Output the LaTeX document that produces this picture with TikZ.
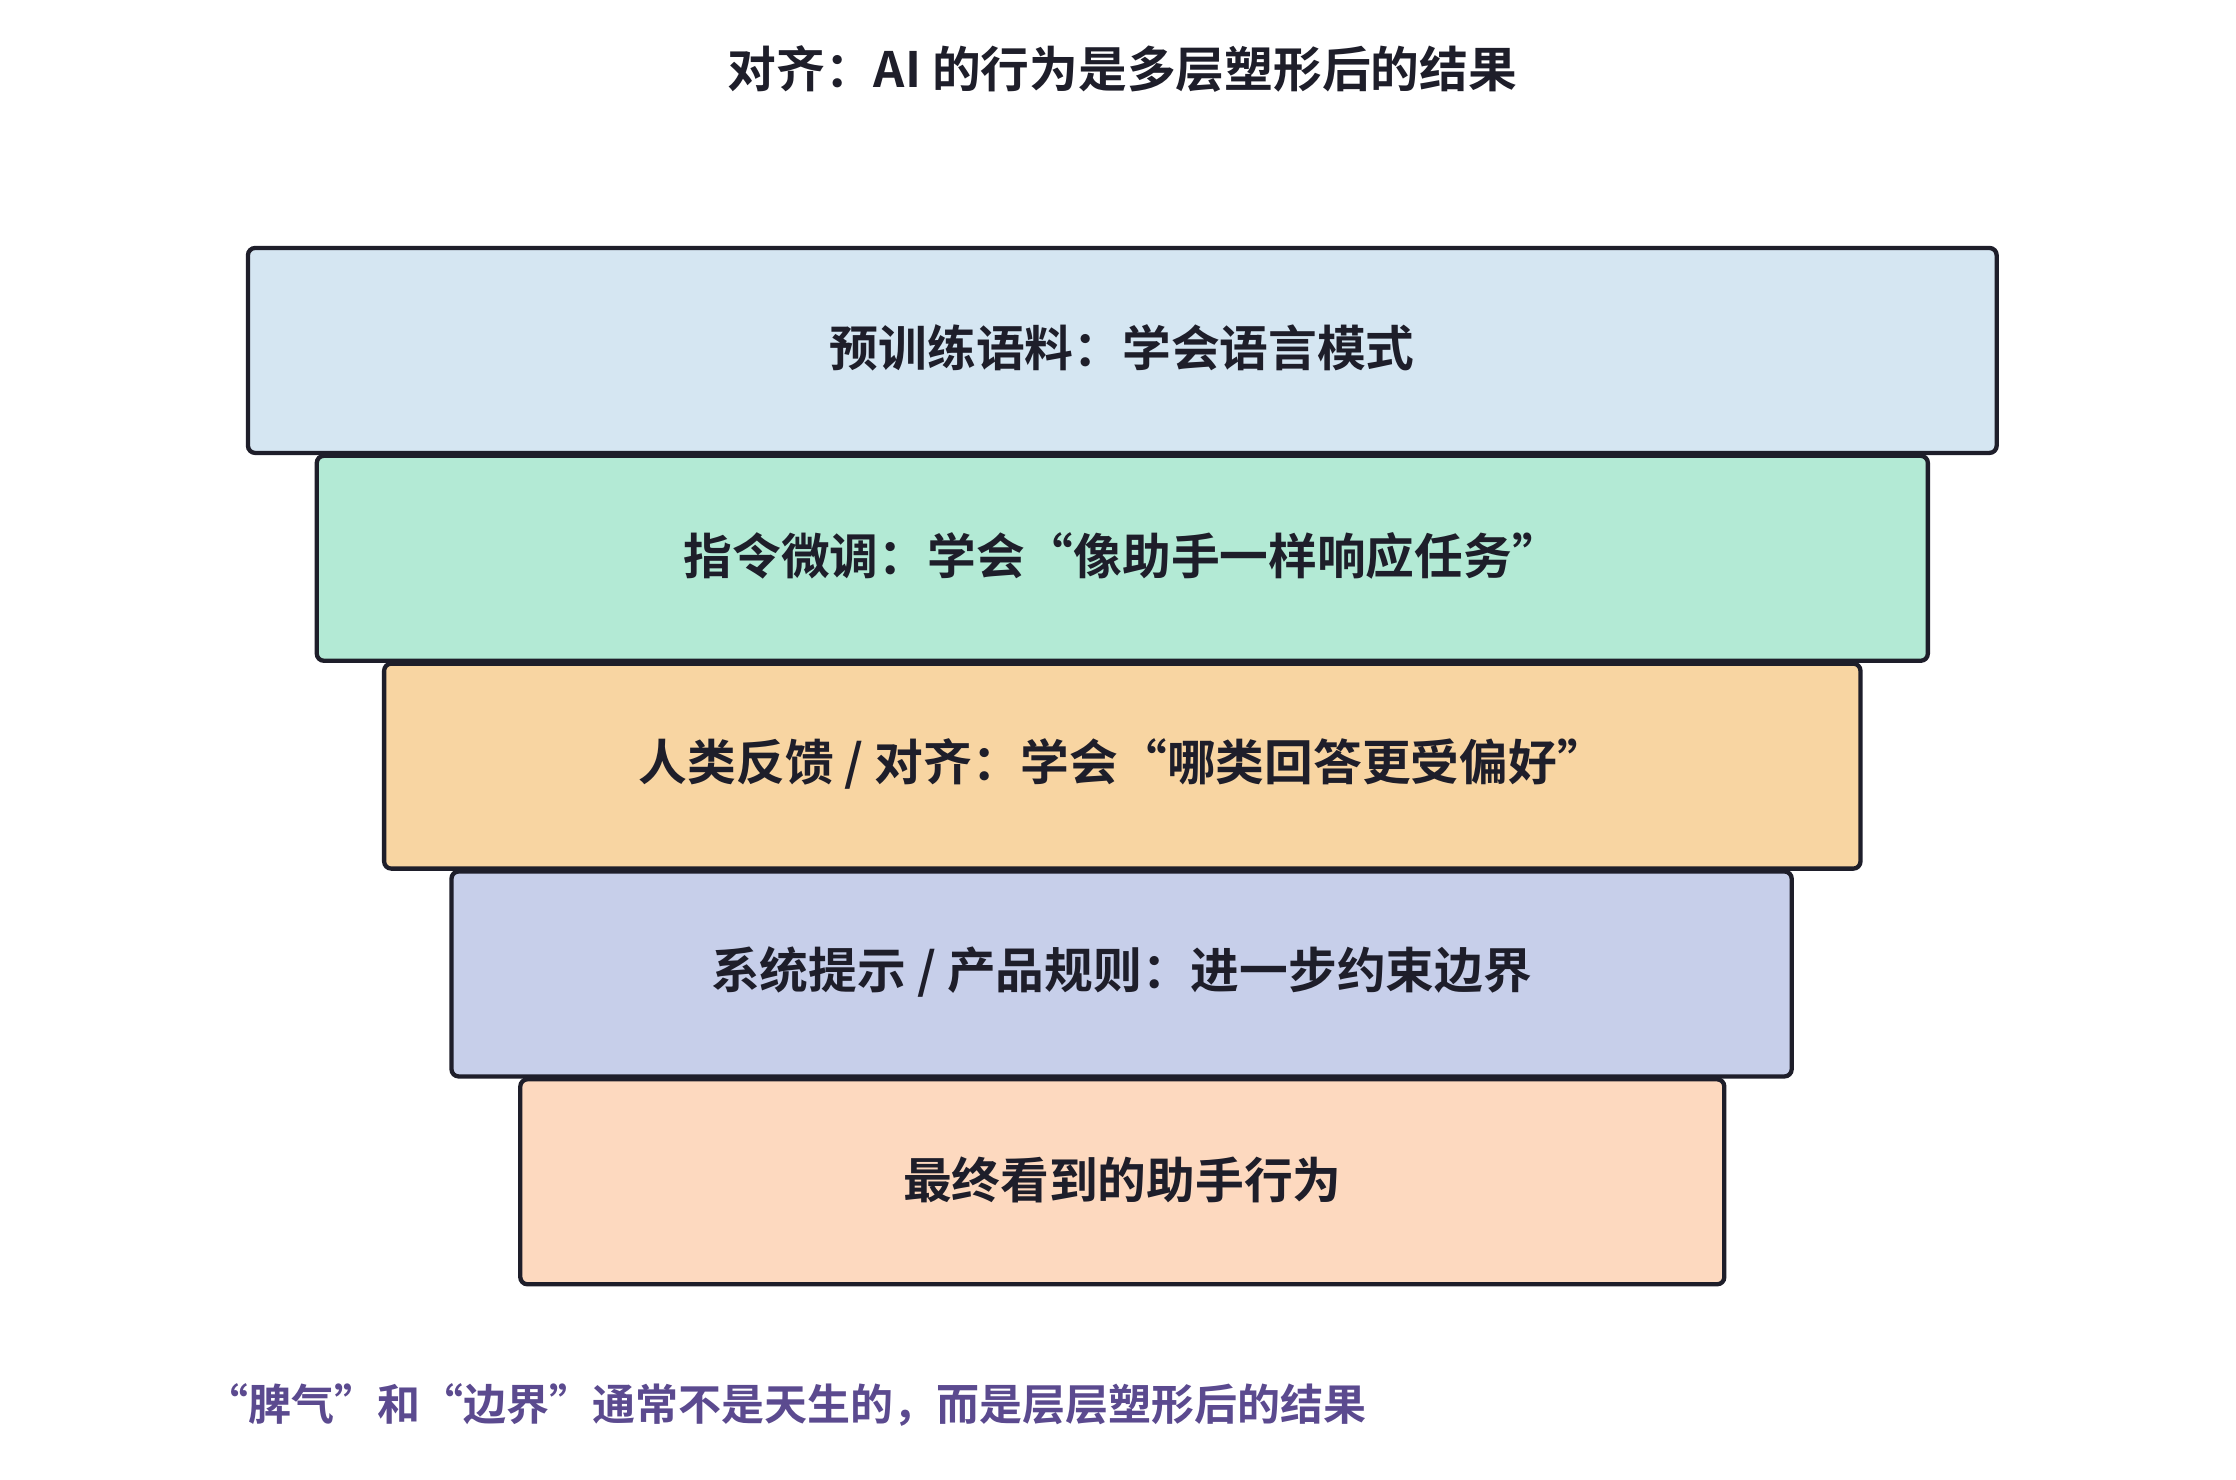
\documentclass[tikz,border=0pt]{standalone}
\usepackage{fontspec}
\newfontfamily\cjk{Noto Sans CJK SC Bold}
\definecolor{c1}{HTML}{D5E6F2}
\definecolor{c2}{HTML}{B3EAD5}
\definecolor{c3}{HTML}{F8D5A2}
\definecolor{c4}{HTML}{C7CFEA}
\definecolor{c5}{HTML}{FDD9BF}
\definecolor{ink}{HTML}{1E1E2A}
\definecolor{foot}{HTML}{5B4A8F}
\begin{document}
\begin{tikzpicture}[x=1pt,y=-1pt,
 layer/.style={draw=ink,line width=3pt,rounded corners=5pt},
 lbl/.style={font=\cjk\fontsize{34}{38}\selectfont,text=ink}]
\useasboundingbox (0,0) rectangle (1560,1032);
\fill[white] (0,0) rectangle (1560,1032);
\node[lbl] (title) at (783,48) {对齐：AI 的行为是多层塑形后的结果};
\foreach \n/\xa/\xb/\ya/\c/\t in {
 l1/173/1393/173/c1/{预训练语料：学会语言模式},
 l2/221/1345/318/c2/{指令微调：学会“像助手一样响应任务”},
 l3/268/1298/463/c3/{人类反馈 / 对齐：学会“哪类回答更受偏好”},
 l4/315/1250/608/c4/{系统提示 / 产品规则：进一步约束边界},
 l5/363/1203/753/c5/{最终看到的助手行为}}{
 \draw[layer,fill=\c] (\xa,\ya) rectangle (\xb,\ya+143);
 \node[lbl] (\n) at ({(\xa+\xb)/2},\ya+70) {\t};
}
\node[font=\cjk\fontsize{30}{34}\selectfont,text=foot,anchor=west,inner sep=0pt] (foot) at (143,980)
 {“脾气”和“边界”通常不是天生的，而是层层塑形后的结果};
\end{tikzpicture}
\end{document}
